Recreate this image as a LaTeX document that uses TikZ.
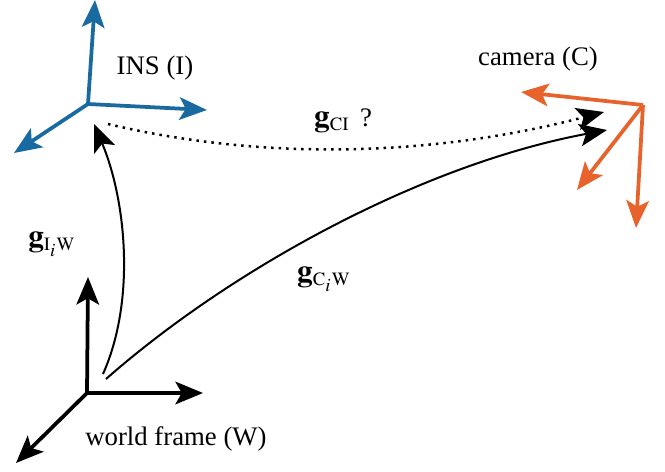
\documentclass[tikz,border=0pt]{standalone}
\usepackage{fontspec}
\usepackage{amsmath}
\usepackage{mathptmx}
\setmainfont{Liberation Serif}
\usetikzlibrary{arrows.meta}
\definecolor{insblue}{RGB}{24,106,160}
\definecolor{camorange}{RGB}{232,98,44}

\begin{document}
\begin{tikzpicture}[x=0.4pt, y=-0.4pt, every node/.style={font=\fontsize{10.7}{13}\selectfont}, >={Stealth[length=11pt,width=9pt,inset=2.5pt]}]
	\useasboundingbox (0,0) rectangle (665,472);
	\tikzset{axis/.style={->, line width=1.5pt}, link/.style={->, line width=0.8pt}, tf/.style={font=\fontsize{12.5}{14}\selectfont}}
	\coordinate (W) at (87,393);
	\coordinate (I) at (88,104);
	\coordinate (C) at (643,105);
	\coordinate (Wx) at (203,393);
	\coordinate (Wy) at (88,277);
	\coordinate (Wz) at (16,463);
	\coordinate (Ix) at (207,110);
	\coordinate (Iy) at (95,0);
	\coordinate (Iz) at (14,153);
	\coordinate (Cx) at (521,92);
	\coordinate (Cy) at (577,190);
	\coordinate (Cz) at (636,228);
	\draw[axis, black] (W) -- (Wx);
	\draw[axis, black] (W) -- (Wy);
	\draw[axis, black] (W) -- (Wz);
	\draw[axis, insblue] (I) -- (Ix);
	\draw[axis, insblue] (I) -- (Iy);
	\draw[axis, insblue] (I) -- (Iz);
	\draw[axis, camorange] (C) -- (Cx);
	\draw[axis, camorange] (C) -- (Cy);
	\draw[axis, camorange] (C) -- (Cz);
	\node (wlabel) at (176,439) {world frame (W)};
	\node (ilabel) at (155,68) {INS (I)};
	\node (clabel) at (538,59) {camera (C)};
	\coordinate (WIs) at (103,374);
	\coordinate (WIe) at (94,124);
	\coordinate (WCs) at (106,379);
	\coordinate (WCe) at (607,130);
	\coordinate (ICs) at (108,124);
	\coordinate (ICe) at (604,112);
	\draw[link] (WIs) .. controls (136,300) and (126,200) .. (WIe);
	\draw[link] (WCs) .. controls (230,270) and (420,165) .. (WCe);
	\draw[->, line width=1pt, dotted] (ICs) .. controls (250,158) and (420,160) .. (ICe);
	\node[tf] (gIW) at (52,244) {$\mathbf{g}_{\scriptscriptstyle\mathrm{I}_i\mathrm{W}}$};
	\node[tf] (gCW) at (324,279) {$\mathbf{g}_{\scriptscriptstyle\mathrm{C}_i\mathrm{W}}$};
	\node[tf] (gCI) at (332,122) {$\mathbf{g}_{\scriptscriptstyle\mathrm{CI}}$};
	\node (qmark) at (366,118) {?};
\end{tikzpicture}
\end{document}
